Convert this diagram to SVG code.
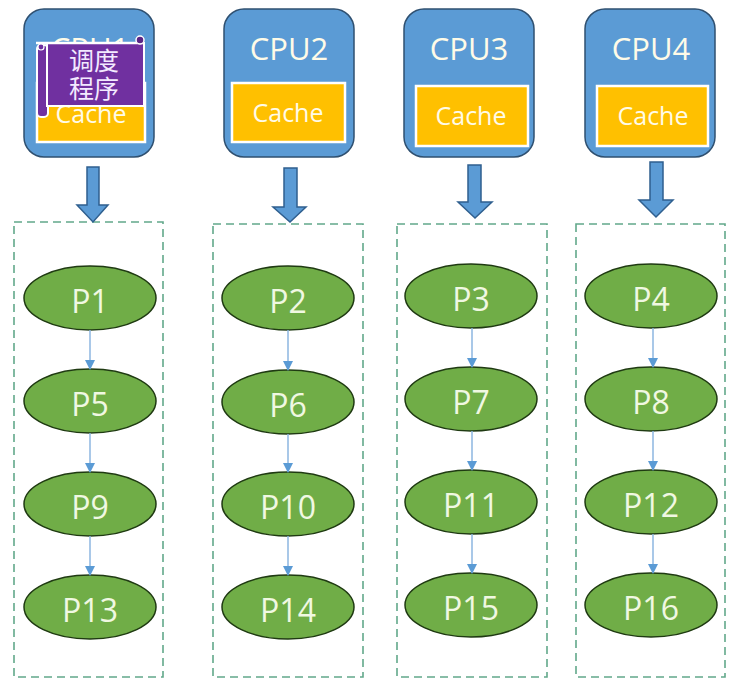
<svg xmlns="http://www.w3.org/2000/svg" width="731" height="681" viewBox="0 0 731 681">
<defs>
<marker id="ah" markerWidth="10" markerHeight="10" refX="9" refY="5" orient="auto" markerUnits="userSpaceOnUse">
<path d="M0,0 L10,5 L0,10 Z" fill="#5b9bd5"/>
</marker>
<style>
.cpu{fill:#5b9bd5;stroke:#2f5070;stroke-width:1.5}
.cache{fill:#ffc000;stroke:#ffffff;stroke-width:2.5}
.ct{font-family:"Open Sans","Liberation Sans",sans-serif;fill:#fffbe8;text-anchor:middle}
.big{fill:#5b9bd5;stroke:#2f5f8f;stroke-width:1.5}
.box{fill:none;stroke:#62a88a;stroke-width:1.6;stroke-dasharray:8 5}
.p{fill:#70ad47;stroke:#1f3a12;stroke-width:1.5}
.pt{font-family:"Open Sans","Liberation Sans",sans-serif;font-size:32px;fill:#f0f8e2;text-anchor:middle}
.link{stroke:#8cb6e0;stroke-width:1.5;fill:none}
</style>
</defs>
<rect width="731" height="681" fill="#ffffff"/>

<g id="container1"><rect class="box" x="14" y="222" width="149" height="455"/></g>
<g id="container2"><rect class="box" x="213" y="224" width="150" height="453"/></g>
<g id="container3"><rect class="box" x="397" y="224" width="150" height="453"/></g>
<g id="container4"><rect class="box" x="576" y="224" width="149" height="453"/></g>

<g id="cpu1">
<rect class="cpu" x="24" y="9" width="130" height="148" rx="20"/>
<text class="ct" x="90" y="60" font-size="31">CPU1</text>
<rect class="cache" x="37" y="83" width="108" height="59"/>
<text class="ct" x="91" y="123" font-size="25">Cache</text>
</g>
<g id="scheduler">
<rect x="37" y="45" width="11" height="72" rx="4" fill="#7030a0" stroke="#ffffff" stroke-width="2"/>
<rect x="47" y="43" width="97" height="63" fill="#7030a0" stroke="#ffffff" stroke-width="2"/>
<line x1="36" y1="43" x2="144" y2="43" stroke="#ffffff" stroke-width="2.5"/>
<circle cx="140" cy="40" r="4" fill="#5a2585" stroke="#ffffff" stroke-width="1.5"/>
<circle cx="41" cy="47" r="3" fill="#7030a0" stroke="#ffffff" stroke-width="1.2"/>
<text x="94" y="70" font-family="'Noto Sans CJK SC',sans-serif" font-size="25" fill="#f3eaff" text-anchor="middle">调度</text>
<text x="94" y="98" font-family="'Noto Sans CJK SC',sans-serif" font-size="25" fill="#f3eaff" text-anchor="middle">程序</text>
</g>

<g id="cpu2">
<rect class="cpu" x="224" y="9" width="130" height="148" rx="20"/>
<text class="ct" x="289" y="60" font-size="31">CPU2</text>
<rect class="cache" x="232" y="83" width="113" height="59"/>
<text class="ct" x="288" y="122" font-size="25">Cache</text>
</g>
<g id="cpu3">
<rect class="cpu" x="404" y="9" width="130" height="148" rx="20"/>
<text class="ct" x="469" y="60" font-size="31">CPU3</text>
<rect class="cache" x="416" y="86" width="112" height="60"/>
<text class="ct" x="471" y="125" font-size="25">Cache</text>
</g>
<g id="cpu4">
<rect class="cpu" x="585" y="9" width="130" height="148" rx="20"/>
<text class="ct" x="651" y="60" font-size="31">CPU4</text>
<rect class="cache" x="597" y="86" width="111" height="60"/>
<text class="ct" x="653" y="125" font-size="25">Cache</text>
</g>

<g id="p1"><ellipse class="p" cx="90" cy="298" rx="66" ry="32"/><text class="pt" x="90" y="313">P1</text></g>
<g id="p5"><ellipse class="p" cx="90" cy="401" rx="66" ry="32"/><text class="pt" x="90" y="416">P5</text></g>
<g id="p9"><ellipse class="p" cx="90" cy="504" rx="66" ry="32"/><text class="pt" x="90" y="519">P9</text></g>
<g id="p13"><ellipse class="p" cx="90" cy="607" rx="66" ry="32"/><text class="pt" x="90" y="622">P13</text></g>

<g id="p2"><ellipse class="p" cx="288" cy="298" rx="66" ry="32"/><text class="pt" x="288" y="313">P2</text></g>
<g id="p6"><ellipse class="p" cx="288" cy="402" rx="66" ry="32"/><text class="pt" x="288" y="417">P6</text></g>
<g id="p10"><ellipse class="p" cx="288" cy="504" rx="66" ry="32"/><text class="pt" x="288" y="519">P10</text></g>
<g id="p14"><ellipse class="p" cx="288" cy="607" rx="66" ry="32"/><text class="pt" x="288" y="622">P14</text></g>

<g id="p3"><ellipse class="p" cx="471" cy="296" rx="66" ry="32"/><text class="pt" x="471" y="311">P3</text></g>
<g id="p7"><ellipse class="p" cx="471" cy="399" rx="66" ry="32"/><text class="pt" x="471" y="414">P7</text></g>
<g id="p11"><ellipse class="p" cx="471" cy="502" rx="66" ry="32"/><text class="pt" x="471" y="517">P11</text></g>
<g id="p15"><ellipse class="p" cx="471" cy="605" rx="66" ry="32"/><text class="pt" x="471" y="620">P15</text></g>

<g id="p4"><ellipse class="p" cx="651" cy="296" rx="66" ry="32"/><text class="pt" x="651" y="311">P4</text></g>
<g id="p8"><ellipse class="p" cx="651" cy="399" rx="66" ry="32"/><text class="pt" x="651" y="414">P8</text></g>
<g id="p12"><ellipse class="p" cx="651" cy="502" rx="66" ry="32"/><text class="pt" x="651" y="517">P12</text></g>
<g id="p16"><ellipse class="p" cx="651" cy="605" rx="66" ry="32"/><text class="pt" x="651" y="620">P16</text></g>

<g id="connectors">
<path class="big" d="M87,167 H99 V205 H108 L93,222 L77,205 H87 Z"/>
<path class="big" d="M284,168 H297 V207 H306 L290,222 L273,207 H284 Z"/>
<path class="big" d="M468,165 H481 V202 H492 L475,218 L458,202 H468 Z"/>
<path class="big" d="M650,162 H663 V200 H673 L656,217 L639,200 H650 Z"/>

<line class="link" x1="90" y1="330" x2="90" y2="369" marker-end="url(#ah)"/>
<line class="link" x1="90" y1="433" x2="90" y2="472" marker-end="url(#ah)"/>
<line class="link" x1="90" y1="536" x2="90" y2="575" marker-end="url(#ah)"/>

<line class="link" x1="288" y1="330" x2="288" y2="370" marker-end="url(#ah)"/>
<line class="link" x1="288" y1="434" x2="288" y2="472" marker-end="url(#ah)"/>
<line class="link" x1="288" y1="536" x2="288" y2="575" marker-end="url(#ah)"/>

<line class="link" x1="472" y1="328" x2="472" y2="367" marker-end="url(#ah)"/>
<line class="link" x1="472" y1="431" x2="472" y2="470" marker-end="url(#ah)"/>
<line class="link" x1="472" y1="534" x2="472" y2="573" marker-end="url(#ah)"/>

<line class="link" x1="653" y1="328" x2="653" y2="367" marker-end="url(#ah)"/>
<line class="link" x1="653" y1="431" x2="653" y2="470" marker-end="url(#ah)"/>
<line class="link" x1="653" y1="534" x2="653" y2="573" marker-end="url(#ah)"/>
</g>
</svg>
